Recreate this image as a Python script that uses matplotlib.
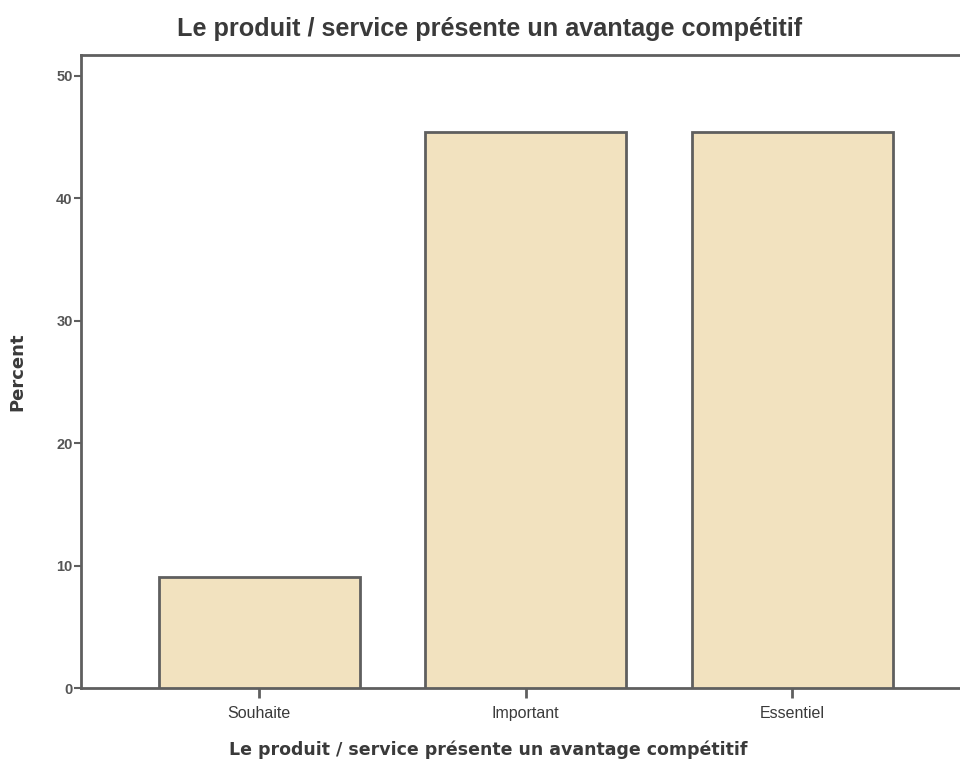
import numpy as np
from matplotlib import pyplot as plt

# Réponses à la question, en pourcentage
categories = ['Souhaite', 'Important', 'Essentiel']
pourcentages = [9.09, 45.45, 45.45]
graduations = [0, 10, 20, 30, 40, 50]

titre = 'Le produit / service présente un avantage compétitif'

gris = '#5f5f5f'
texte = '#3a3a3a'

fig = plt.figure(figsize=(9.6, 7.62), dpi=100)
ax = fig.add_axes([0.0844, 0.0971, 0.9156, 0.8307])

x = np.arange(len(categories))
ax.bar(x, pourcentages, width=0.754, color='#f2e2bf', edgecolor=gris,
       linewidth=2, zorder=3)

ax.set_xlim(-0.668, 2.63)
ax.set_ylim(0, 51.7)
ax.set_xticks(x)
ax.set_xticklabels(categories, fontsize=11.5, family='Liberation Sans', color=texte)
ax.set_yticks(graduations)
ax.set_yticklabels([str(g) for g in graduations], fontsize=10.5,
                   family='Liberation Sans', fontweight='bold', color='#555555')
ax.tick_params(axis='x', length=7, width=2, color=gris, pad=6)
ax.tick_params(axis='y', length=5, width=1.5, color=gris, pad=1)

for cote in ['left', 'bottom', 'top']:
    ax.spines[cote].set_color(gris)
    ax.spines[cote].set_linewidth(2)
ax.spines['right'].set_visible(False)

ax.set_title(titre, fontsize=18.2, family='Liberation Sans', fontweight='bold',
             color=texte, pad=14, x=0.465)
ax.set_xlabel(titre, fontsize=12.5, family='DejaVu Sans', fontweight='bold',
              color=texte)
ax.xaxis.set_label_coords(0.463, -0.083)
ax.set_ylabel('Percent', fontsize=13, family='DejaVu Sans', fontweight='bold',
              color=texte)
ax.yaxis.set_label_coords(-0.062, 0.5)

plt.savefig('out.png', dpi=100)
